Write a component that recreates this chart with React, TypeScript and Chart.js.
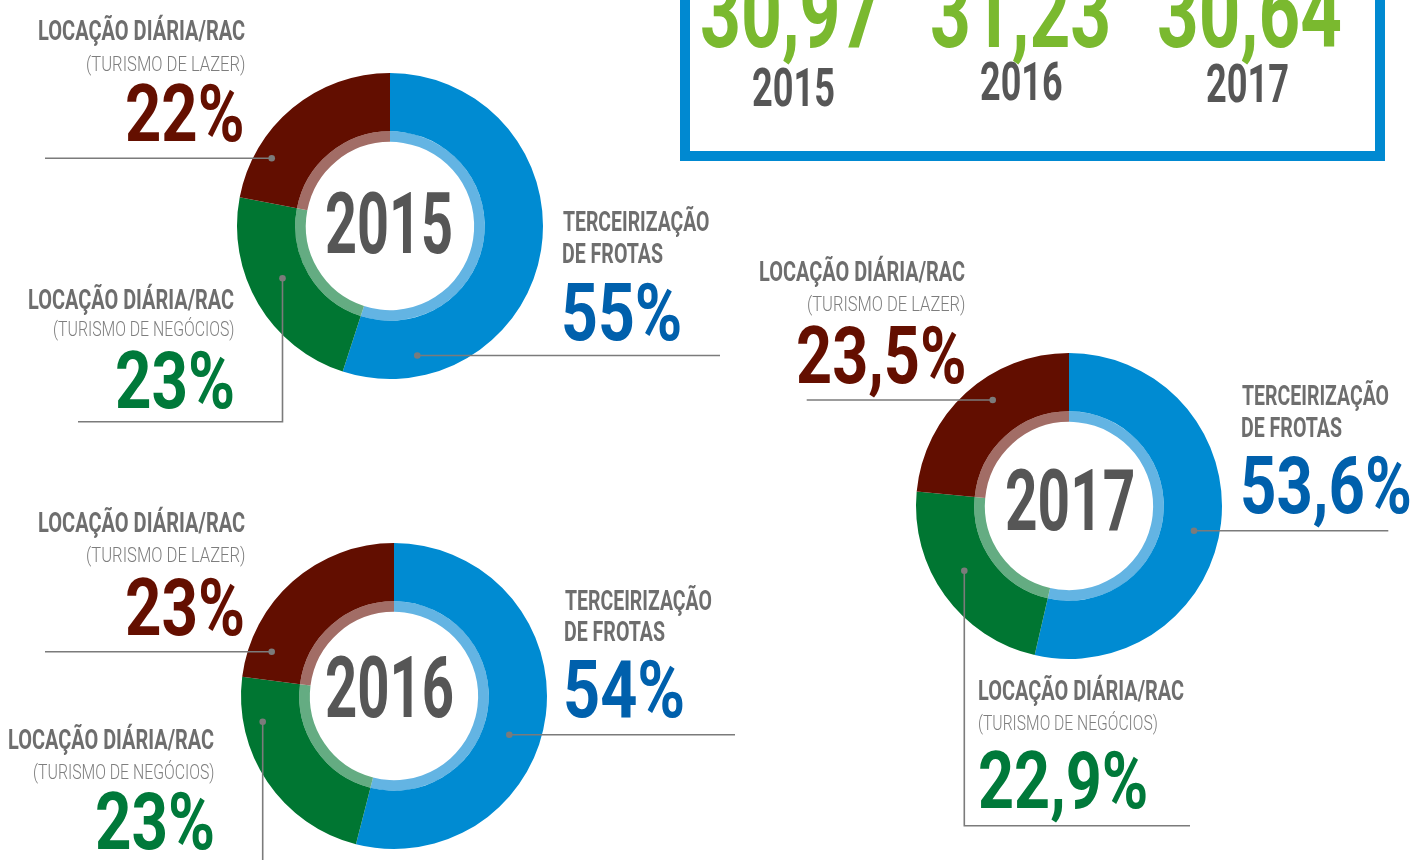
import React, { useEffect, useRef } from "react";
import { Chart, registerables } from "chart.js";

Chart.register(...registerables);

// ---------- DATA ----------
const years = ["2015", "2016", "2017"];
const segments = [
  "Terceirização de Frotas",
  "Locação Diária/RAC (Turismo de Negócios)",
  "Locação Diária/RAC (Turismo de Lazer)",
];
const share2015 = [55, 23, 22];
const share2016 = [54, 23, 23];
const share2017 = [53.6, 22.9, 23.5];
const boxValues = ["30,97", "31,23", "30,64"];

const labelRac = "LOCAÇÃO DIÁRIA/RAC";
const labelLazer = "(TURISMO DE LAZER)";
const labelNegocios = "(TURISMO DE NEGÓCIOS)";
const labelTerc1 = "TERCEIRIZAÇÃO";
const labelTerc2 = "DE FROTAS";

// ---------- STYLE ----------
const outerColors = ["#008BD2", "#007632", "#620E00"];
const innerColors = ["#63B4E3", "#64AC82", "#A26D66"];
const pctColors = ["#0060AC", "#00793A", "#640F00"];
const grayBold = "#6E6E6E";
const grayThin = "#7E7E7E";
const yearGray = "#565656";
const topGreen = "#7AB92F";
const boxBlue = "#0089D1";
const lineGray = "#7B7B7B";
const FONT = "Roboto, 'Noto Sans', sans-serif";

const fmt = (v: number) => `${String(v).replace(".", ",")}%`;

// ---------- TEXT HELPER ----------
let mctx: CanvasRenderingContext2D | null = null;
function getCtx() {
  if (!mctx) mctx = document.createElement("canvas").getContext("2d");
  return mctx!;
}

type TxtProps = {
  text: string;
  x: number;
  capTop: number;
  capH: number;
  width: number;
  align: "left" | "right" | "center";
  color: string;
  weight: number;
};

function Txt({ text, x, capTop, capH, width, align, color, weight }: TxtProps) {
  const ctx = getCtx();
  ctx.font = `${weight} 100px ${FONT}`;
  const hm = ctx.measureText("H");
  const capRatio = (hm.actualBoundingBoxAscent || 71.1) / 100;
  const F = capH / capRatio;
  ctx.font = `${weight} ${F}px ${FONT}`;
  const m = ctx.measureText(text);
  const abl = m.actualBoundingBoxLeft || 0;
  const abr = m.actualBoundingBoxRight || m.width;
  const ink = abl + abr;
  const s = width / ink;
  const fa = m.fontBoundingBoxAscent || F * 0.928;
  const fd = m.fontBoundingBoxDescent || F * 0.244;
  const baseOff = (F - (fa + fd)) / 2 + fa;
  const top = capTop + capH - baseOff;
  let left: number;
  if (align === "left") left = x + s * abl;
  else if (align === "right") left = x - s * abr;
  else left = x - (s * (abr - abl)) / 2;
  return (
    <div
      style={{
        position: "absolute",
        left,
        top,
        fontFamily: FONT,
        fontWeight: weight,
        fontSize: F,
        lineHeight: `${F}px`,
        color,
        whiteSpace: "nowrap",
        transform: `scaleX(${s})`,
        transformOrigin: "0 0",
      }}
    >
      {text}
    </div>
  );
}

// ---------- DOUGHNUT ----------
const S = 320;
function Donut({ cx, cy, values }: { cx: number; cy: number; values: number[] }) {
  const ref = useRef<HTMLCanvasElement>(null);
  useEffect(() => {
    const chart = new Chart(ref.current!, {
      type: "doughnut",
      data: {
        labels: segments,
        datasets: [
          { data: values, backgroundColor: outerColors, borderWidth: 0, weight: 55 },
          { data: values, backgroundColor: innerColors, borderWidth: 0, weight: 10 },
        ],
      },
      options: {
        responsive: false,
        maintainAspectRatio: false,
        animation: false,
        events: [],
        radius: 153,
        cutout: 88,
        layout: { padding: 0 },
        plugins: { legend: { display: false }, tooltip: { enabled: false } },
      } as any,
    });
    return () => chart.destroy();
  }, [values]);
  return (
    <canvas
      ref={ref}
      width={S}
      height={S}
      style={{ position: "absolute", left: cx - S / 2, top: cy - S / 2, width: S, height: S }}
    />
  );
}

// ---------- LAYOUT ----------
const donutPos = [
  { cx: 389.5, cy: 226 },
  { cx: 394, cy: 695.5 },
  { cx: 1069, cy: 506 },
];

const leaders: { d: string; dot: [number, number] }[] = [
  { d: "M45,158.3 H271.7", dot: [271.7, 158.3] },
  { d: "M282.5,278.3 V421.7 H78", dot: [282.5, 278.3] },
  { d: "M417.3,355.5 H720", dot: [417.3, 355.5] },
  { d: "M45,651.7 H271.7", dot: [271.7, 651.7] },
  { d: "M262.7,721.7 V860", dot: [262.7, 721.7] },
  { d: "M509.3,734.7 H735", dot: [509.3, 734.7] },
  { d: "M806.7,400 H992.7", dot: [992.7, 400] },
  { d: "M964.3,570.7 V825.7 H1190", dot: [964.3, 570.7] },
  { d: "M1194,530.7 H1388.3", dot: [1194, 530.7] },
];

export default function App() {
  const shares = [share2015, share2016, share2017];
  const texts: TxtProps[] = [];
  const add = (t: Partial<TxtProps> & { text: string }) =>
    texts.push({ x: 0, capTop: 0, capH: 20.5, width: 100, align: "left", color: grayBold, weight: 700, ...t } as TxtProps);

  // 2015
  add({ text: labelRac, x: 245, capTop: 20, width: 206, align: "right" });
  add({ text: labelLazer, x: 245, capTop: 56, capH: 15, width: 158, align: "right", color: grayThin, weight: 300 });
  add({ text: fmt(share2015[2]), x: 243, capTop: 84, capH: 58, width: 116, align: "right", color: pctColors[2] });
  add({ text: labelTerc1, x: 562.5, capTop: 211, width: 146 });
  add({ text: labelTerc2, x: 562.5, capTop: 243, width: 100 });
  add({ text: fmt(share2015[0]), x: 564, capTop: 283.5, capH: 57, width: 116, color: pctColors[0] });
  add({ text: labelRac, x: 233.3, capTop: 289, width: 205, align: "right" });
  add({ text: labelNegocios, x: 233.3, capTop: 321, capH: 15, width: 180, align: "right", color: grayThin, weight: 300 });
  add({ text: fmt(share2015[1]), x: 233.3, capTop: 351, capH: 58, width: 116.6, align: "right", color: pctColors[1] });
  // 2016
  add({ text: labelRac, x: 245, capTop: 512, width: 206, align: "right" });
  add({ text: labelLazer, x: 245, capTop: 547.5, capH: 15, width: 158, align: "right", color: grayThin, weight: 300 });
  add({ text: fmt(share2016[2]), x: 243.3, capTop: 578, capH: 58, width: 116.6, align: "right", color: pctColors[2] });
  add({ text: labelRac, x: 213.3, capTop: 729, width: 205, align: "right" });
  add({ text: labelNegocios, x: 213.3, capTop: 764, capH: 15, width: 180, align: "right", color: grayThin, weight: 300 });
  add({ text: fmt(share2016[1]), x: 213.3, capTop: 792, capH: 58, width: 116.6, align: "right", color: pctColors[1] });
  add({ text: labelTerc1, x: 565, capTop: 590, width: 146.5 });
  add({ text: labelTerc2, x: 565, capTop: 621, width: 100 });
  add({ text: fmt(share2016[0]), x: 566.7, capTop: 660, capH: 58, width: 117, color: pctColors[0] });
  // 2017
  add({ text: labelRac, x: 965, capTop: 261, width: 205, align: "right" });
  add({ text: labelLazer, x: 965, capTop: 296, capH: 15, width: 157, align: "right", color: grayThin, weight: 300 });
  add({ text: fmt(share2017[2]), x: 965, capTop: 325.5, capH: 58, width: 167, align: "right", color: pctColors[2] });
  add({ text: labelTerc1, x: 1241.7, capTop: 385.5, width: 146.6 });
  add({ text: labelTerc2, x: 1241.7, capTop: 417, width: 100 });
  add({ text: fmt(share2017[0]), x: 1243.3, capTop: 455.5, capH: 58, width: 166.7, color: pctColors[0] });
  add({ text: labelRac, x: 978.3, capTop: 680.5, width: 205 });
  add({ text: labelNegocios, x: 978.3, capTop: 715.5, capH: 15, width: 178.4, color: grayThin, weight: 300 });
  add({ text: fmt(share2017[1]), x: 980, capTop: 750.5, capH: 58, width: 166.7, color: pctColors[1] });
  // centre years
  add({ text: years[0], x: 389.2, capTop: 192, capH: 61, width: 125, align: "center", color: yearGray });
  add({ text: years[1], x: 389.7, capTop: 656.5, capH: 61, width: 126, align: "center", color: yearGray });
  add({ text: years[2], x: 1069.3, capTop: 469, capH: 62, width: 126.7, align: "center", color: yearGray });
  // box
  add({ text: boxValues[0], x: 791, capTop: -25, capH: 72, width: 177, align: "center", color: topGreen });
  add({ text: boxValues[1], x: 1020, capTop: -25, capH: 72, width: 176, align: "center", color: topGreen });
  add({ text: boxValues[2], x: 1250, capTop: -25, capH: 72, width: 181, align: "center", color: topGreen });
  add({ text: years[0], x: 793, capTop: 68, capH: 39, width: 81, align: "center", color: yearGray });
  add({ text: years[1], x: 1021, capTop: 62, capH: 38, width: 81, align: "center", color: yearGray });
  add({ text: years[2], x: 1247.5, capTop: 64.3, capH: 38, width: 81.6, align: "center", color: yearGray });

  return (
    <div
      style={{
        position: "absolute",
        left: 0,
        top: 0,
        width: 1413,
        height: 860,
        overflow: "hidden",
        background: "#fff",
      }}
    >
      <div
        style={{
          position: "absolute",
          left: 680,
          top: -20,
          width: 705,
          height: 180.7,
          border: `10px solid ${boxBlue}`,
          boxSizing: "border-box",
        }}
      />
      {shares.map((v, i) => (
        <Donut key={i} cx={donutPos[i].cx} cy={donutPos[i].cy} values={v} />
      ))}
      <svg
        width={1413}
        height={860}
        style={{ position: "absolute", left: 0, top: 0, pointerEvents: "none" }}
      >
        {leaders.map((l, i) => (
          <g key={i}>
            <path d={l.d} fill="none" stroke={lineGray} strokeWidth={1.6} />
            <circle cx={l.dot[0]} cy={l.dot[1]} r={3.3} fill={lineGray} />
          </g>
        ))}
      </svg>
      {texts.map((t, i) => (
        <Txt key={i} {...t} />
      ))}
    </div>
  );
}
